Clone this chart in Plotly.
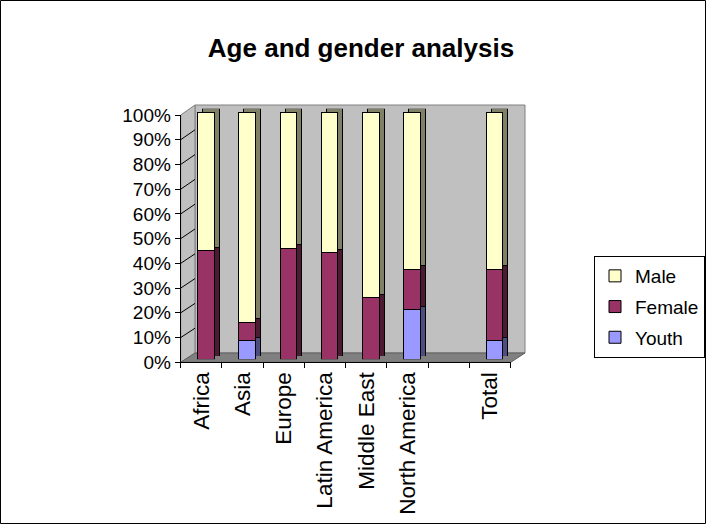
import plotly.graph_objects as go

# ---------------- data ----------------
categories = ["Africa", "Asia", "Europe", "Latin America", "Middle East",
              "North America", " ", "Total"]
youth = [None, 7.5, None, None, None, 20, None, 7.5]
female = [44, 7.5, 45, 43, 25, 16.5, None, 29]
male = [56, 85, 55, 57, 75, 63.5, None, 63.5]
y_ticks = [0, 10, 20, 30, 40, 50, 60, 70, 80, 90, 100]

series_names = ["Youth", "Female", "Male"]
series_values = [youth, female, male]
legend_ranks = [3, 2, 1]
front_colors = ["#9999FF", "#993366", "#FFFFCC"]
side_colors = ["#4D4D80", "#4D1A33", "#808066"]

# ---------------- geometry (pixels) ----------------
W, H = 707, 525
def px(p):
    return p / W
def py(p):
    return 1 - p / H

FONT = "Liberation Sans, Arial, sans-serif"

# front axis frame
AX_L, AX_R, AX_B, AX_T = 180.7, 510.7, 362.3, 115.0
# back wall
BK_L, BK_R, BK_B, BK_T = 195.0, 525.0, 353.0, 105.0
# bar front faces
FR_L, FR_R, FR_B, FR_T = 185.2, 515.2, 359.3, 112.0
# bar depth offset
DX, DY = 5.0, 3.3
BAR_W = 0.40

fig = go.Figure()

# side/top faces (drawn first, behind the front faces)
for name, vals, col in zip(series_names, series_values, side_colors):
    fig.add_trace(go.Bar(
        x=categories, y=vals, name=name, width=BAR_W,
        marker=dict(color=col, line=dict(color="black", width=1)),
        xaxis="x2", yaxis="y2", showlegend=False, hoverinfo="skip"))

# front faces
for name, vals, col, rk in zip(series_names, series_values, front_colors, legend_ranks):
    fig.add_trace(go.Bar(
        x=categories, y=vals, name=name, width=BAR_W,
        marker=dict(color=col, line=dict(color="black", width=1)),
        xaxis="x3", yaxis="y3", legendgroup=name, legendrank=rk))

# axis holder for the front axes (labels only)
fig.add_trace(go.Scatter(x=categories, y=[None] * len(categories), mode="markers",
                         xaxis="x4", yaxis="y4", showlegend=False, hoverinfo="skip"))

hidden = dict(visible=False, showgrid=False, zeroline=False, fixedrange=True)
cat_hidden = dict(hidden, type="category", categoryorder="array",
                  categoryarray=categories, range=[-0.5, len(categories) - 0.5])

shapes = []
# back wall
shapes.append(dict(type="rect", xref="paper", yref="paper", layer="below",
                   x0=px(BK_L), x1=px(BK_R), y0=py(BK_B), y1=py(BK_T),
                   fillcolor="#C0C0C0", line=dict(color="#808080", width=1)))
# left side wall
shapes.append(dict(type="path", xref="paper", yref="paper", layer="below",
                   path=f"M{px(AX_L)},{py(AX_B)} L{px(BK_L)},{py(BK_B)} L{px(BK_L)},{py(BK_T)} L{px(AX_L)},{py(AX_T)} Z",
                   fillcolor="#C0C0C0", line=dict(color="#808080", width=1)))
# floor
shapes.append(dict(type="path", xref="paper", yref="paper", layer="below",
                   path=f"M{px(AX_L)},{py(AX_B)} L{px(AX_R)},{py(AX_B)} L{px(BK_R)},{py(BK_B)} L{px(BK_L)},{py(BK_B)} Z",
                   fillcolor="#808080", line=dict(color="#606060", width=1)))
# side wall grid diagonals
for v in y_ticks[1:-1]:
    yf = AX_B - (AX_B - AX_T) * v / 100
    yb = BK_B - (BK_B - BK_T) * v / 100
    shapes.append(dict(type="line", xref="paper", yref="paper", layer="below",
                       x0=px(AX_L), y0=py(yf), x1=px(BK_L), y1=py(yb),
                       line=dict(color="black", width=1)))
# outer chart border
shapes.append(dict(type="rect", xref="paper", yref="paper", layer="above",
                   x0=px(0.5), x1=px(W - 1.5), y0=py(H - 1.5), y1=py(0.5),
                   line=dict(color="black", width=1)))

fig.update_layout(
    width=W, height=H, autosize=False,
    template="none",
    margin=dict(l=0, r=0, t=0, b=0),
    paper_bgcolor="white", plot_bgcolor="rgba(0,0,0,0)",
    barmode="stack",
    font=dict(family=FONT, color="black"),
    title=dict(text="<b>Age and gender analysis</b>", x=361 / W, xanchor="center",
               y=py(48), yanchor="middle", font=dict(family=FONT, size=26, color="black")),
    # back wall (grid only)
    xaxis=dict(domain=[px(BK_L), px(BK_R)], range=[0, 1], visible=False,
               showgrid=False, zeroline=False, fixedrange=True),
    yaxis=dict(domain=[py(BK_B), py(BK_T)], range=[0, 100], tickvals=y_ticks[1:-1],
               showgrid=True, gridcolor="black", gridwidth=1, showticklabels=False,
               ticks="", zeroline=False, showline=False, fixedrange=True),
    # side faces
    xaxis2=dict(cat_hidden, domain=[px(FR_L + DX), px(FR_R + DX)], anchor="y2"),
    yaxis2=dict(hidden, domain=[py(FR_B - DY), py(FR_T - DY)], range=[0, 100], anchor="x2"),
    # front faces
    xaxis3=dict(cat_hidden, domain=[px(FR_L), px(FR_R)], anchor="y3"),
    yaxis3=dict(hidden, domain=[py(FR_B), py(FR_T)], range=[0, 100], anchor="x3"),
    # front axes with labels
    xaxis4=dict(domain=[px(AX_L), px(AX_R)], anchor="y4", type="category",
                categoryorder="array", categoryarray=categories,
                range=[-0.5, len(categories) - 0.5], tickson="boundaries",
                ticks="outside", ticklen=5, tickcolor="black", showline=True,
                linecolor="black", linewidth=1, showgrid=False, zeroline=False,
                tickangle=-90, tickfont=dict(family=FONT, size=22.5, color="black"),
                fixedrange=True),
    yaxis4=dict(domain=[py(AX_B), py(AX_T)], anchor="x4", range=[0, 100],
                tickvals=y_ticks, ticktext=[f"{v}%" for v in y_ticks],
                ticks="outside", ticklen=5, tickcolor="black", showline=True,
                linecolor="black", linewidth=1, showgrid=False, zeroline=False,
                tickfont=dict(family=FONT, size=19, color="black"), fixedrange=True),
    legend=dict(x=px(705), xanchor="right", y=py(256), yanchor="top",
                traceorder="grouped", tracegroupgap=3,
                bordercolor="black", borderwidth=1, bgcolor="white",
                font=dict(family=FONT, size=19, color="black")),
    shapes=shapes,
    showlegend=True,
)

fig.write_html("out.html", config={"displayModeBar": False},
               post_script="document.body.style.margin='0';document.body.style.overflow='hidden';")
